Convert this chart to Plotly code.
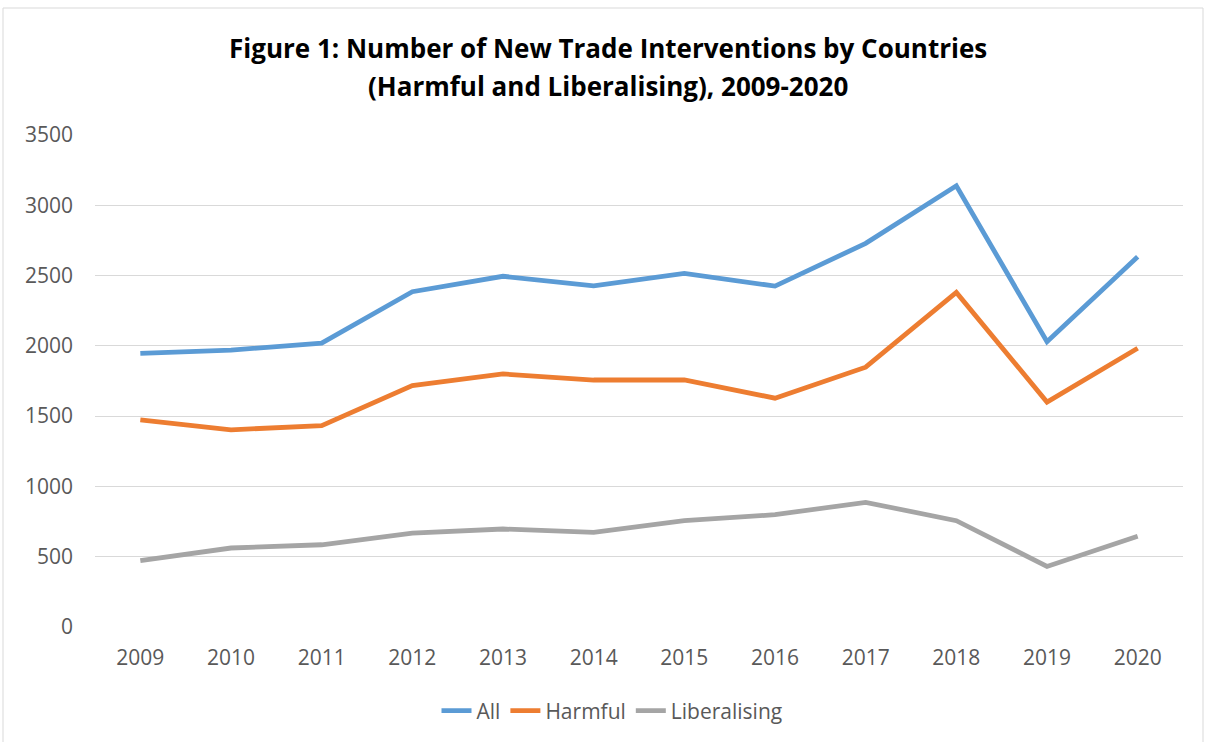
import plotly.graph_objects as go

years = ["2009", "2010", "2011", "2012", "2013", "2014", "2015", "2016", "2017", "2018", "2019", "2020"]
all_vals = [1946, 1970, 2020, 2385, 2495, 2427, 2515, 2425, 2729, 3139, 2029, 2634]
harmful_vals = [1474, 1403, 1432, 1718, 1800, 1757, 1757, 1628, 1848, 2380, 1600, 1983]
liberalising_vals = [472, 562, 585, 668, 697, 673, 756, 799, 887, 756, 431, 645]

series = [
    ("All", all_vals, "#5B9BD5"),
    ("Harmful", harmful_vals, "#ED7D31"),
    ("Liberalising", liberalising_vals, "#A5A5A5"),
]
title_lines = [
    "Figure 1: Number of New Trade Interventions by Countries",
    "(Harmful and Liberalising), 2009-2020",
]

fig = go.Figure()
for name, vals, color in series:
    fig.add_trace(go.Scatter(
        x=years, y=vals, name=name, mode="lines",
        line=dict(color=color, width=4.8),
    ))

W, H = 1205, 742
L, R, T, B = 95, 22, 135, 115
pw, ph = W - L - R, H - T - B

def px(x):
    return (x - L) / pw

def py(y):
    return (H - B - y) / ph

fig.add_shape(type="rect", xref="paper", yref="paper",
              x0=px(3), x1=px(1203), y0=py(760), y1=py(8),
              line=dict(color="#D9D9D9", width=1), fillcolor="rgba(0,0,0,0)", layer="below")

for text, yc in zip(title_lines, [48, 86]):
    fig.add_annotation(
        text="<b>" + text + "</b>", xref="paper", yref="paper",
        x=px(608), y=py(yc), xanchor="center", yanchor="middle", showarrow=False,
        font=dict(family="Open Sans", size=26, color="#000000"),
    )

fig.update_layout(
    width=W, height=H, autosize=False,
    margin=dict(l=L, r=R, t=T, b=B, autoexpand=False),
    paper_bgcolor="white", plot_bgcolor="white",
    font=dict(family="Open Sans", color="#595959", size=21),
    xaxis=dict(
        type="category", range=[-0.5, 11.5], showgrid=False, zeroline=False, showline=False,
        ticks="", tickfont=dict(size=21, color="#595959"), ticklabelstandoff=16,
        automargin=False, tickangle=0,
    ),
    yaxis=dict(
        range=[0, 3500], dtick=500, showgrid=True, gridcolor="#D9D9D9", gridwidth=1.3,
        zeroline=False, showline=False, ticks="", automargin=False,
        tickfont=dict(size=21, color="#595959"), ticklabelstandoff=21,
    ),
    legend=dict(
        orientation="h", x=px(612), xanchor="center",
        y=py(711), yanchor="middle",
        font=dict(size=21, color="#595959"),
        traceorder="normal",
    ),
    showlegend=True,
)

fig.write_html("out.html")
